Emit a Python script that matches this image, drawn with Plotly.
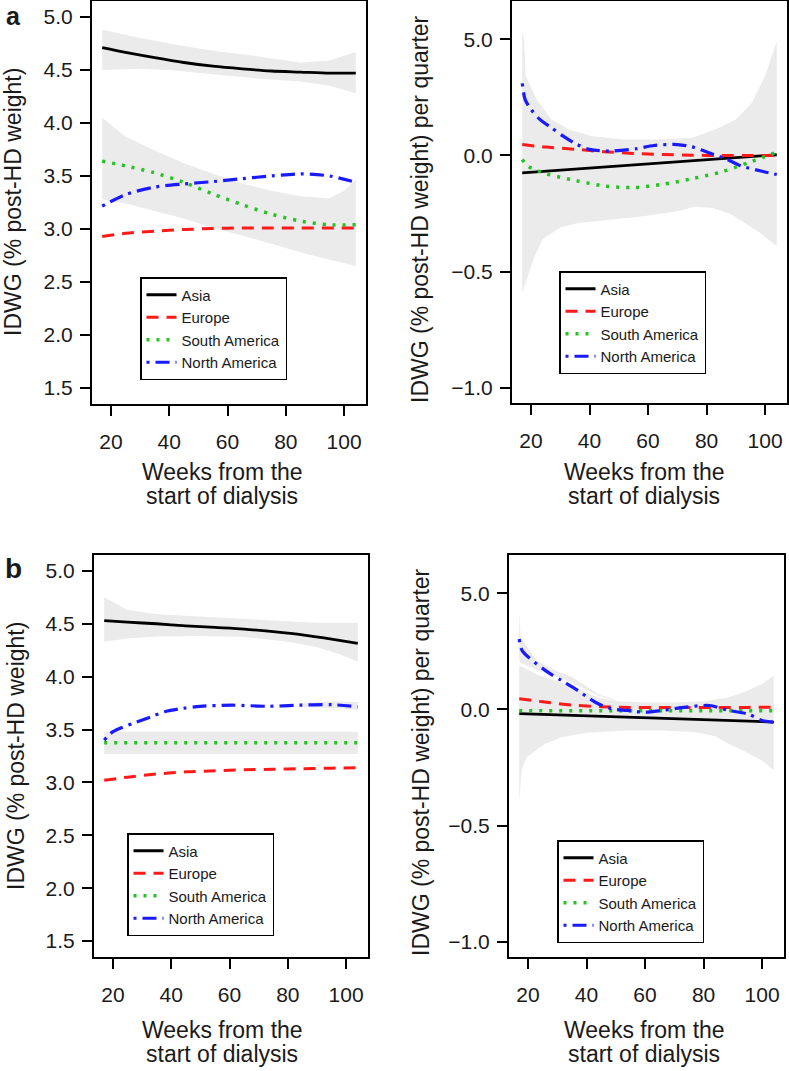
import plotly.graph_objects as go

W, H = 789, 1071

# ------------------------------------------------------------------
# DATA
# ------------------------------------------------------------------
TICK_X = [20, 40, 60, 80, 100]
TICK_X_TEXT = ["20", "40", "60", "80", "100"]
TICK_Y_LEVEL = [1.5, 2.0, 2.5, 3.0, 3.5, 4.0, 4.5, 5.0]
TICK_Y_LEVEL_TEXT = ["1.5", "2.0", "2.5", "3.0", "3.5", "4.0", "4.5", "5.0"]
TICK_Y_SLOPE = [-1.0, -0.5, 0.0, 0.5]
TICK_Y_SLOPE_TEXT = ["\u22121.0", "\u22120.5", "0.0", "5.0"]

REGIONS = ["Asia", "Europe", "South America", "North America"]

# ---- Panel a, left (IDWG level) ----
A_L_X = [17, 25, 35, 45, 55, 65, 75, 85, 95, 104]
A_L_ASIA = [4.71, 4.665, 4.615, 4.57, 4.535, 4.51, 4.49, 4.48, 4.47, 4.47]
A_L_EUROPE = [2.93, 2.96, 2.98, 2.995, 3.005, 3.01, 3.01, 3.01, 3.01, 3.01]
A_L_SAM = [3.64, 3.595, 3.53, 3.44, 3.33, 3.23, 3.14, 3.075, 3.04, 3.04]
A_L_NAM = [3.215, 3.325, 3.395, 3.425, 3.447, 3.475, 3.50, 3.52, 3.50, 3.44]

A_L_ASIA_BAND_X = [17, 30, 40, 55, 70, 85, 95, 104]
A_L_ASIA_LO = [4.50, 4.51, 4.50, 4.46, 4.42, 4.39, 4.35, 4.28]
A_L_ASIA_HI = [4.88, 4.80, 4.75, 4.68, 4.63, 4.57, 4.59, 4.67]
A_L_SAM_BAND_X = [17, 25, 35, 45, 55, 65, 75, 85, 95, 100, 104]
A_L_SAM_LO = [3.28, 3.24, 3.17, 3.10, 3.01, 2.94, 2.86, 2.78, 2.71, 2.68, 2.65]
A_L_SAM_HI = [4.05, 3.87, 3.74, 3.62, 3.52, 3.43, 3.36, 3.31, 3.29, 3.36, 3.47]

# ---- Panel a, right (IDWG change per quarter) ----
A_R_ASIA_X = [17, 104]
A_R_ASIA = [-0.075, 0.003]
A_R_EUROPE_X = [17, 25, 35, 45, 55, 65, 75, 85, 95, 104]
A_R_EUROPE = [0.047, 0.036, 0.027, 0.016, 0.009, 0.004, 0.001, 0.0, 0.0, 0.0]
A_R_SAM_X = [17, 19, 25, 35, 45, 55, 65, 75, 85, 95, 104]
A_R_SAM = [-0.017, -0.046, -0.078, -0.107, -0.131, -0.138, -0.124, -0.10, -0.071, -0.028, 0.014]
A_R_NAM_X = [17, 18, 20, 23, 27, 31, 35, 40, 47, 56, 62, 70, 75, 81, 87, 92, 99, 104]
A_R_NAM = [0.31, 0.24, 0.198, 0.155, 0.119, 0.083, 0.052, 0.026, 0.019, 0.029, 0.043,
           0.047, 0.037, 0.011, -0.017, -0.046, -0.068, -0.082]

A_R_BAND_HI_X = [17, 17.6, 18.2, 22, 27, 33, 41, 52, 64, 75, 83, 90, 95.5, 100, 104]
A_R_BAND_HI = [0.53, 0.50, 0.34, 0.24, 0.155, 0.112, 0.083, 0.069, 0.069, 0.076, 0.112,
               0.155, 0.227, 0.342, 0.49]
A_R_BAND_LO_X = [17, 21, 24, 30, 36, 47, 59, 70, 76, 82, 88, 93, 98, 104]
A_R_BAND_LO = [-0.59, -0.44, -0.36, -0.31, -0.29, -0.276, -0.26, -0.24, -0.22, -0.226,
               -0.25, -0.29, -0.33, -0.39]

# ---- Panel b, left (IDWG level) ----
B_L_X = [17, 25, 35, 45, 55, 65, 75, 85, 95, 104]
B_L_ASIA = [4.53, 4.515, 4.50, 4.48, 4.465, 4.45, 4.425, 4.395, 4.355, 4.315]
B_L_EUROPE = [3.02, 3.05, 3.08, 3.10, 3.11, 3.12, 3.125, 3.13, 3.135, 3.14]
B_L_SAM_X = [17, 104]
B_L_SAM = [3.375, 3.375]
B_L_NAM_X = [17, 20, 27, 33, 38, 44, 50, 61, 73, 84, 95, 104]
B_L_NAM = [3.40, 3.48, 3.56, 3.62, 3.67, 3.70, 3.72, 3.73, 3.72, 3.73, 3.735, 3.715]

B_L_ASIA_BAND_X = [17, 25, 35, 50, 65, 80, 90, 98, 104]
B_L_ASIA_HI = [4.75, 4.63, 4.59, 4.57, 4.55, 4.53, 4.51, 4.51, 4.51]
B_L_ASIA_LO = [4.33, 4.36, 4.38, 4.385, 4.375, 4.33, 4.28, 4.21, 4.14]
B_L_SAM_BAND_X = [17, 104]
B_L_SAM_LO = [3.27, 3.27]
B_L_SAM_HI = [3.48, 3.48]
B_L_NAM_BAND_X = [84, 95, 104]
B_L_NAM_LO = [3.71, 3.705, 3.685]
B_L_NAM_HI = [3.75, 3.765, 3.76]

# ---- Panel b, right (IDWG change per quarter) ----
B_R_ASIA_X = [17, 104]
B_R_ASIA = [-0.018, -0.054]
B_R_EUROPE_X = [17, 25, 35, 45, 55, 65, 75, 85, 95, 104]
B_R_EUROPE = [0.046, 0.033, 0.019, 0.012, 0.009, 0.008, 0.008, 0.008, 0.009, 0.010]
B_R_SAM_X = [17, 104]
B_R_SAM = [-0.006, -0.006]
B_R_NAM_X = [17, 18, 26, 31.5, 37, 43, 48.5, 54, 60, 66, 74, 82, 88.5, 95, 100, 104]
B_R_NAM = [0.303, 0.253, 0.167, 0.124, 0.082, 0.031, 0.003, -0.004, -0.012, -0.004,
           0.01, 0.017, -0.004, -0.019, -0.047, -0.055]

B_R_NAM_BAND_X = [17, 17.5, 23, 29, 35, 44, 50]
B_R_NAM_HI = [0.42, 0.31, 0.21, 0.17, 0.14, 0.067, 0.04]
B_R_NAM_LO = [0.21, 0.20, 0.17, 0.145, 0.115, 0.06, 0.035]
B_R_BAND_HI_X = [17, 20, 23, 29, 35, 44, 50, 60, 70, 80, 88, 94, 100, 104]
B_R_BAND_HI = [0.19, 0.17, 0.15, 0.125, 0.10, 0.05, 0.035, 0.03, 0.03, 0.035, 0.05,
               0.075, 0.11, 0.146]
B_R_BAND_LO_X = [17, 17.8, 19.5, 25.8, 31.5, 40, 54, 66, 77, 84, 88.5, 94, 100, 104]
B_R_BAND_LO = [-0.40, -0.26, -0.205, -0.147, -0.119, -0.10, -0.09, -0.09, -0.097,
               -0.115, -0.147, -0.18, -0.22, -0.26]

# ------------------------------------------------------------------
# STYLE
# ------------------------------------------------------------------
FONT = "Liberation Sans, Arial, Helvetica, sans-serif"
TXT = "#1a1a1a"
BAND = "#ebebeb"
STYLES = {
    "Asia": dict(color="#000000", dash="solid", width=2.8),
    "Europe": dict(color="#ff1a1a", dash="12px,8px", width=3),
    "South America": dict(color="#22c322", dash="3px,7px", width=3.5),
    "North America": dict(color="#1a1aff", dash="3px,6px,14px,6px", width=3.2),
}


def px_x(p):
    return p / W


def px_y(p):
    return 1 - p / H


fig = go.Figure()

# panels: (axis suffix, legend id, pixel box l, r, t, b)
PANELS = {
    "aL": ("", "legend", (92, 366, 1, 404)),
    "aR": ("2", "legend2", (512, 787, 1, 403)),
    "bL": ("3", "legend3", (94, 368, 555, 957)),
    "bR": ("4", "legend4", (509, 784, 555, 957)),
}


def band(panel, xh, hi, xl, lo):
    sfx = PANELS[panel][0]
    xs = list(xh) + list(xl)[::-1]
    ys = list(hi) + list(lo)[::-1]
    fig.add_trace(go.Scatter(
        x=xs, y=ys, mode="lines", fill="toself", fillcolor=BAND,
        line=dict(width=0, color=BAND), showlegend=False, hoverinfo="skip",
        xaxis="x" + sfx, yaxis="y" + sfx))


def curve(panel, name, xs, ys):
    sfx, leg, _ = PANELS[panel]
    st = STYLES[name]
    fig.add_trace(go.Scatter(
        x=xs, y=ys, mode="lines", name=name,
        line=dict(color=st["color"], dash=st["dash"], width=st["width"],
                  shape="spline", smoothing=0.8),
        legend=leg, xaxis="x" + sfx, yaxis="y" + sfx))


# bands first
band("aL", A_L_ASIA_BAND_X, A_L_ASIA_HI, A_L_ASIA_BAND_X, A_L_ASIA_LO)
band("aL", A_L_SAM_BAND_X, A_L_SAM_HI, A_L_SAM_BAND_X, A_L_SAM_LO)
band("aR", A_R_BAND_HI_X, A_R_BAND_HI, A_R_BAND_LO_X, A_R_BAND_LO)
band("bL", B_L_ASIA_BAND_X, B_L_ASIA_HI, B_L_ASIA_BAND_X, B_L_ASIA_LO)
band("bL", B_L_SAM_BAND_X, B_L_SAM_HI, B_L_SAM_BAND_X, B_L_SAM_LO)
band("bL", B_L_NAM_BAND_X, B_L_NAM_HI, B_L_NAM_BAND_X, B_L_NAM_LO)
band("bR", B_R_BAND_HI_X, B_R_BAND_HI, B_R_BAND_LO_X, B_R_BAND_LO)
band("bR", B_R_NAM_BAND_X, B_R_NAM_HI, B_R_NAM_BAND_X, B_R_NAM_LO)

# curves
curve("aL", "Asia", A_L_X, A_L_ASIA)
curve("aL", "Europe", A_L_X, A_L_EUROPE)
curve("aL", "South America", A_L_X, A_L_SAM)
curve("aL", "North America", A_L_X, A_L_NAM)

curve("aR", "Asia", A_R_ASIA_X, A_R_ASIA)
curve("aR", "Europe", A_R_EUROPE_X, A_R_EUROPE)
curve("aR", "South America", A_R_SAM_X, A_R_SAM)
curve("aR", "North America", A_R_NAM_X, A_R_NAM)

curve("bL", "Asia", B_L_X, B_L_ASIA)
curve("bL", "Europe", B_L_X, B_L_EUROPE)
curve("bL", "South America", B_L_SAM_X, B_L_SAM)
curve("bL", "North America", B_L_NAM_X, B_L_NAM)

curve("bR", "Asia", B_R_ASIA_X, B_R_ASIA)
curve("bR", "Europe", B_R_EUROPE_X, B_R_EUROPE)
curve("bR", "South America", B_R_SAM_X, B_R_SAM)
curve("bR", "North America", B_R_NAM_X, B_R_NAM)

layout = dict(
    width=W, height=H, margin=dict(l=0, r=0, t=0, b=0),
    paper_bgcolor="white", plot_bgcolor="white",
    font=dict(family=FONT, color=TXT, size=21),
    showlegend=True,
)


def axis_common():
    return dict(showline=True, mirror=True, linecolor="black", linewidth=2,
                ticks="outside", ticklen=10, tickwidth=2, tickcolor="black",
                showgrid=False, zeroline=False, tickfont=dict(size=21, color=TXT, family=FONT))


for key, (sfx, leg, (l, r, t, b)) in PANELS.items():
    xa = axis_common()
    xa.update(domain=[px_x(l), px_x(r)], range=[13.5, 107.5],
              tickvals=TICK_X, ticktext=TICK_X_TEXT, anchor="y" + sfx,
              ticklabelstandoff=8)
    ya = axis_common()
    if key.endswith("L"):
        ya.update(range=[1.35, 5.15], tickvals=TICK_Y_LEVEL, ticktext=TICK_Y_LEVEL_TEXT)
    else:
        ya.update(range=[-1.064, 0.664], tickvals=TICK_Y_SLOPE, ticktext=TICK_Y_SLOPE_TEXT)
    ya.update(domain=[px_y(b), px_y(t)], anchor="x" + sfx, ticklabelstandoff=3)
    layout["xaxis" + sfx] = xa
    layout["yaxis" + sfx] = ya

LEGEND_POS = {"legend": (140, 277), "legend2": (559, 271), "legend3": (127, 833), "legend4": (557, 840)}
for leg, (lx, ly) in LEGEND_POS.items():
    layout[leg] = dict(x=px_x(lx), y=px_y(ly), xanchor="left", yanchor="top",
                       xref="paper", yref="paper",
                       bgcolor="white", bordercolor="black", borderwidth=1.5,
                       font=dict(size=15, family=FONT, color=TXT),
                       tracegroupgap=0, itemwidth=30, traceorder="normal")

ann = []
# panel letters
ann.append(dict(text="<b>a</b>", x=px_x(13), y=1.0, yanchor="top", font=dict(size=25)))
ann.append(dict(text="<b>b</b>", x=px_x(13), y=px_y(568), font=dict(size=28)))
# y titles
ann.append(dict(text="IDWG (% post-HD weight)", x=px_x(13), y=px_y(202), textangle=-90, font=dict(size=23)))
ann.append(dict(text="IDWG (% post-HD weight) per quarter", x=px_x(420), y=px_y(209), textangle=-90, font=dict(size=23)))
ann.append(dict(text="IDWG (% post-HD weight)", x=px_x(16), y=px_y(756), textangle=-90, font=dict(size=23)))
ann.append(dict(text="IDWG (% post-HD weight) per quarter", x=px_x(421), y=px_y(762), textangle=-90, font=dict(size=23)))
# x titles
for cx, y1, y2 in [(222, 472, 496), (644, 472, 496), (222, 1030, 1054), (644, 1030, 1054)]:
    ann.append(dict(text="Weeks from the", x=px_x(cx), y=px_y(y1), font=dict(size=23)))
    ann.append(dict(text="start of dialysis", x=px_x(cx), y=px_y(y2), font=dict(size=23)))

for a in ann:
    a.setdefault("yanchor", "middle")
    a.update(xref="paper", yref="paper", showarrow=False, xanchor="center")
    a["font"].update(family=FONT, color=TXT)
layout["annotations"] = ann

fig.update_layout(**layout)
fig.write_html(
    "out.html",
    config={"displayModeBar": False},
    post_script="document.body.style.margin='0';document.body.style.padding='0';"
                "document.documentElement.style.overflow='hidden';",
)
